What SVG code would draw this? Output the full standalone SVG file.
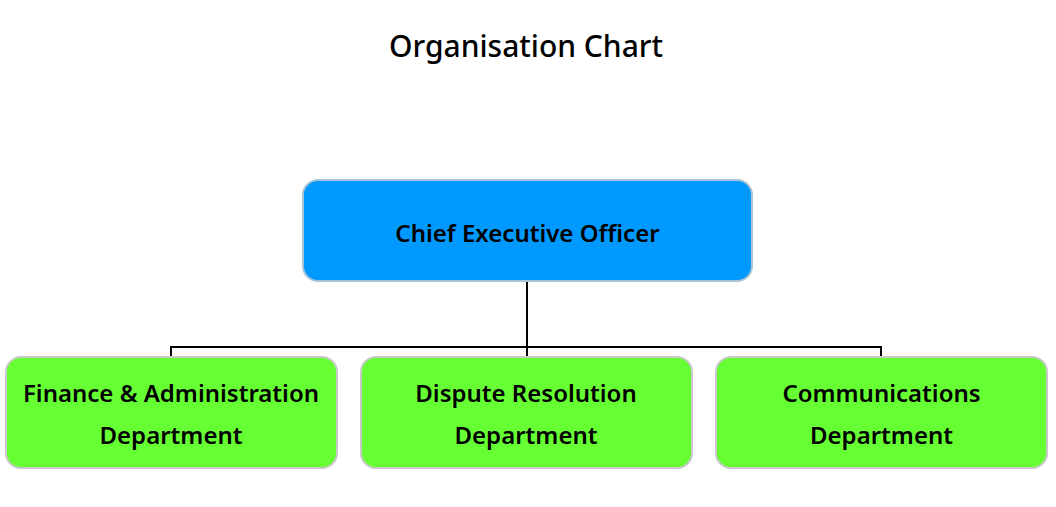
<svg xmlns="http://www.w3.org/2000/svg" width="1056" height="507" viewBox="0 0 1056 507">
<style>
.t{font-family:"Noto Sans","Open Sans","Liberation Sans",sans-serif;fill:#000;text-anchor:middle}
.title{font-size:30px;font-weight:500}
.lbl{font-size:24px;font-weight:600}
.ceo{fill:#0099FF;stroke:#A9C4D6;stroke-width:2}
.dep{fill:#66FF33;stroke:#C8C8C8;stroke-width:2}
.c{fill:none;stroke:#000;stroke-width:2}
</style>
<rect width="1056" height="507" fill="#fff"/>
<text class="t title" x="526" y="57">Organisation Chart</text>
<g id="connectors">
<path class="c" d="M527 281V347M171 357V347H881V357M527 347V357"/>
</g>
<g id="ceo">
<rect class="ceo" x="303" y="180" width="449" height="101" rx="15"/>
<text class="t lbl" x="527.5" y="242">Chief Executive Officer</text>
</g>
<g id="finance">
<rect class="dep" x="6" y="357" width="331" height="111" rx="15"/>
<text class="t lbl" x="171" y="402">Finance &amp; Administration</text>
<text class="t lbl" x="171" y="444">Department</text>
</g>
<g id="dispute">
<rect class="dep" x="361" y="357" width="331" height="111" rx="15"/>
<text class="t lbl" x="526" y="402">Dispute Resolution</text>
<text class="t lbl" x="526" y="444">Department</text>
</g>
<g id="communications">
<rect class="dep" x="716" y="357" width="331" height="111" rx="15"/>
<text class="t lbl" x="881.5" y="402">Communications</text>
<text class="t lbl" x="881.5" y="444">Department</text>
</g>
</svg>
